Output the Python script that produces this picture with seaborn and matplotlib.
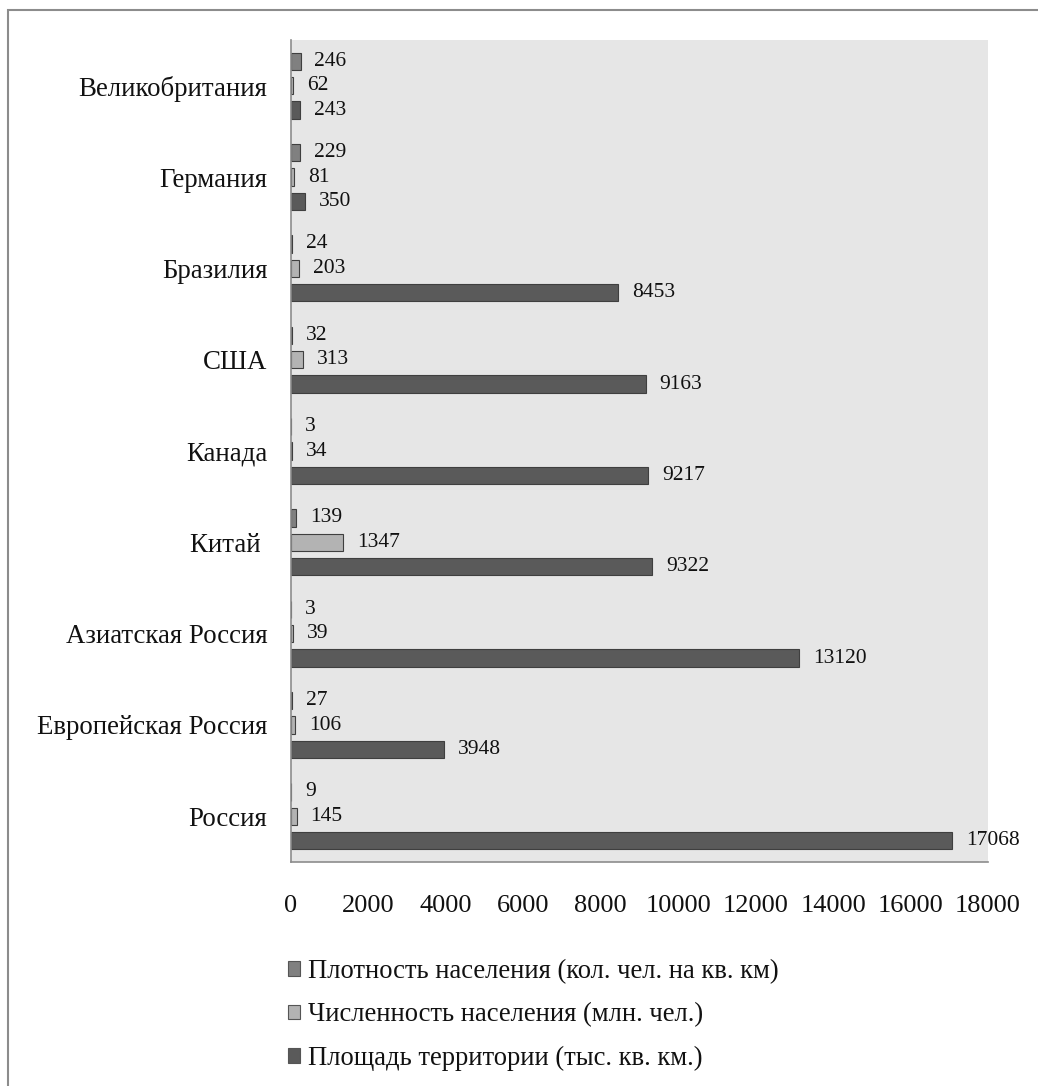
import pandas as pd
import matplotlib
matplotlib.use("Agg")
import matplotlib.pyplot as plt
import seaborn as sns
from matplotlib.patches import Rectangle, Patch

countries = ["Великобритания", "Германия", "Бразилия", "США", "Канада",
             "Китай ", "Азиатская Россия", "Европейская Россия", "Россия"]
density = [246, 229, 24, 32, 3, 139, 3, 27, 9]
population = [62, 81, 203, 313, 34, 1347, 39, 106, 145]
area = [243, 350, 8453, 9163, 9217, 9322, 13120, 3948, 17068]

series_names = ["Плотность населения (кол. чел. на кв. км)",
                "Численность населения (млн. чел.)",
                "Площадь территории (тыс. кв. км.)"]
series_colors = ["#808080", "#b3b3b3", "#5a5a5a"]
x_ticks = [0, 2000, 4000, 6000, 8000, 10000, 12000, 14000, 16000, 18000]

df = pd.DataFrame({
    "country": countries * 3,
    "value": density + population + area,
    "series": [series_names[0]] * 9 + [series_names[1]] * 9 + [series_names[2]] * 9,
})

sns.set_theme(style="white")
plt.rcParams["font.family"] = ["Liberation Serif", "DejaVu Serif"]

fig = plt.figure(figsize=(10.38, 10.86), dpi=100)
ax = fig.add_axes([291 / 1038, 1 - 862 / 1086, (988 - 291) / 1038, (862 - 40) / 1086])
ax.set_facecolor("#e6e6e6")

sns.barplot(data=df, x="value", y="country", hue="series", hue_order=series_names,
            palette=series_colors, orient="h", width=0.8, dodge=True,
            edgecolor="#3f3f3f", linewidth=0.8, legend=False, ax=ax)

# narrower bars with gaps between series, like the original
bar_h = 0.19
for p in ax.patches:
    c = p.get_y() + p.get_height() / 2
    p.set_height(bar_h)
    p.set_y(c - bar_h / 2)

for cont in ax.containers:
    ax.bar_label(cont, padding=10, fontsize=15.5, color="#111111")

ax.set_xlim(0, 18000)
ax.set_ylim(8.5, -0.5)
ax.set_xticks(x_ticks)
ax.set_xticklabels([str(t) for t in x_ticks])
ax.tick_params(axis="x", length=0, pad=24, labelsize=19, colors="#111111")
ax.tick_params(axis="y", length=0, pad=17, labelsize=19.4, colors="#111111")
ax.set_xlabel("")
ax.set_ylabel("")

for s in ["top", "right"]:
    ax.spines[s].set_visible(False)
for s in ["left", "bottom"]:
    ax.spines[s].set_color("#8c8c8c")
    ax.spines[s].set_linewidth(1.2)

handles = [Patch(facecolor=c, edgecolor="#555555", linewidth=0.8) for c in series_colors]
fig.legend(handles, series_names, loc="upper left",
           bbox_to_anchor=(288 / 1038, 1 - 959 / 1086), frameon=False,
           borderpad=0, borderaxespad=0,
           fontsize=19.2, handlelength=0.45, handleheight=0.45, handletextpad=0.3,
           labelspacing=0.69, labelcolor="#111111")

# outer frame of the chart area
fig.patches.append(Rectangle((8 / 1038, -0.05), 1.1, 1 - 10 / 1086 + 0.05,
                             transform=fig.transFigure, fill=False,
                             edgecolor="#8c8c8c", linewidth=1.5))

fig.savefig("out.png", dpi=100, facecolor="white")
